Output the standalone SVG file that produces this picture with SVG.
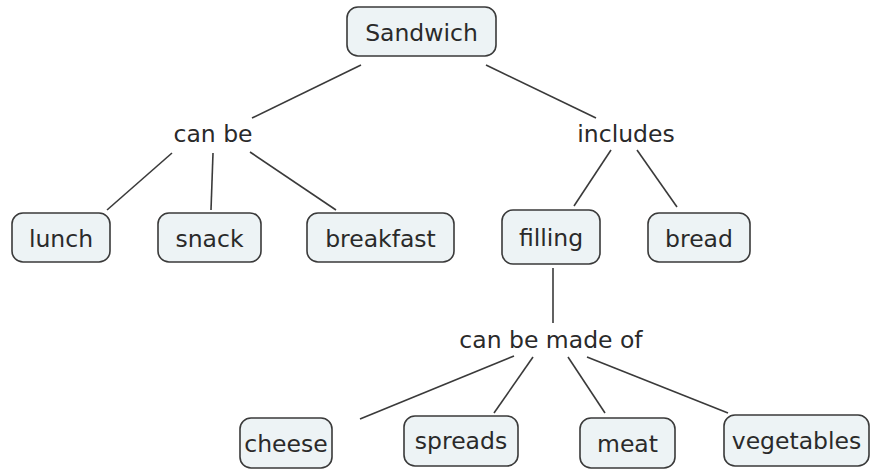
<svg xmlns="http://www.w3.org/2000/svg" width="881" height="472" viewBox="0 0 881 472">
<style>
.n rect{fill:#edf3f5;stroke:#3a3a3a;stroke-width:1.6}
text{font-family:"DejaVu Sans",Verdana,sans-serif;font-size:23.5px;fill:#2a2a2a;text-anchor:middle}
#edges line{stroke:#3a3a3a;stroke-width:1.6}
</style>
<rect width="881" height="472" fill="#fff"/>
<g id="edges">
<line x1="361" y1="65" x2="252" y2="118"/>
<line x1="486" y1="65" x2="596" y2="118"/>
<line x1="172" y1="153" x2="107" y2="210"/>
<line x1="213" y1="153" x2="211" y2="210"/>
<line x1="250" y1="152" x2="336" y2="210"/>
<line x1="611" y1="150" x2="574" y2="206"/>
<line x1="637" y1="150" x2="677" y2="207"/>
<line x1="553" y1="268" x2="553" y2="323"/>
<line x1="514" y1="356" x2="360" y2="419"/>
<line x1="533" y1="357" x2="494" y2="413"/>
<line x1="568" y1="357" x2="605" y2="413"/>
<line x1="587" y1="357" x2="728" y2="413"/>
</g>
<g id="sandwich" class="n"><rect x="347" y="7" width="149" height="49" rx="11"/><text x="421.5" y="41">Sandwich</text></g>
<g id="canbe"><text x="213" y="142">can be</text></g>
<g id="includes"><text x="626" y="142">includes</text></g>
<g id="lunch" class="n"><rect x="12" y="213" width="98" height="49" rx="11"/><text x="61" y="247">lunch</text></g>
<g id="snack" class="n"><rect x="158" y="213" width="103" height="49" rx="11"/><text x="209.5" y="247">snack</text></g>
<g id="breakfast" class="n"><rect x="307" y="213" width="147" height="49" rx="11"/><text x="380.5" y="247">breakfast</text></g>
<g id="filling" class="n"><rect x="502" y="210" width="98" height="54" rx="11"/><text x="551" y="246">filling</text></g>
<g id="bread" class="n"><rect x="648" y="213" width="102" height="49" rx="11"/><text x="699" y="247">bread</text></g>
<g id="canbemadeof"><text x="551" y="348">can be made of</text></g>
<g id="cheese" class="n"><rect x="240" y="418" width="92" height="50" rx="11"/><text x="286" y="452">cheese</text></g>
<g id="spreads" class="n"><rect x="404" y="416" width="114" height="50" rx="11"/><text x="461" y="449">spreads</text></g>
<g id="meat" class="n"><rect x="580" y="418" width="95" height="50" rx="11"/><text x="627.5" y="452">meat</text></g>
<g id="vegetables" class="n"><rect x="724" y="415" width="145" height="51" rx="11"/><text x="796.5" y="449">vegetables</text></g>
</svg>
